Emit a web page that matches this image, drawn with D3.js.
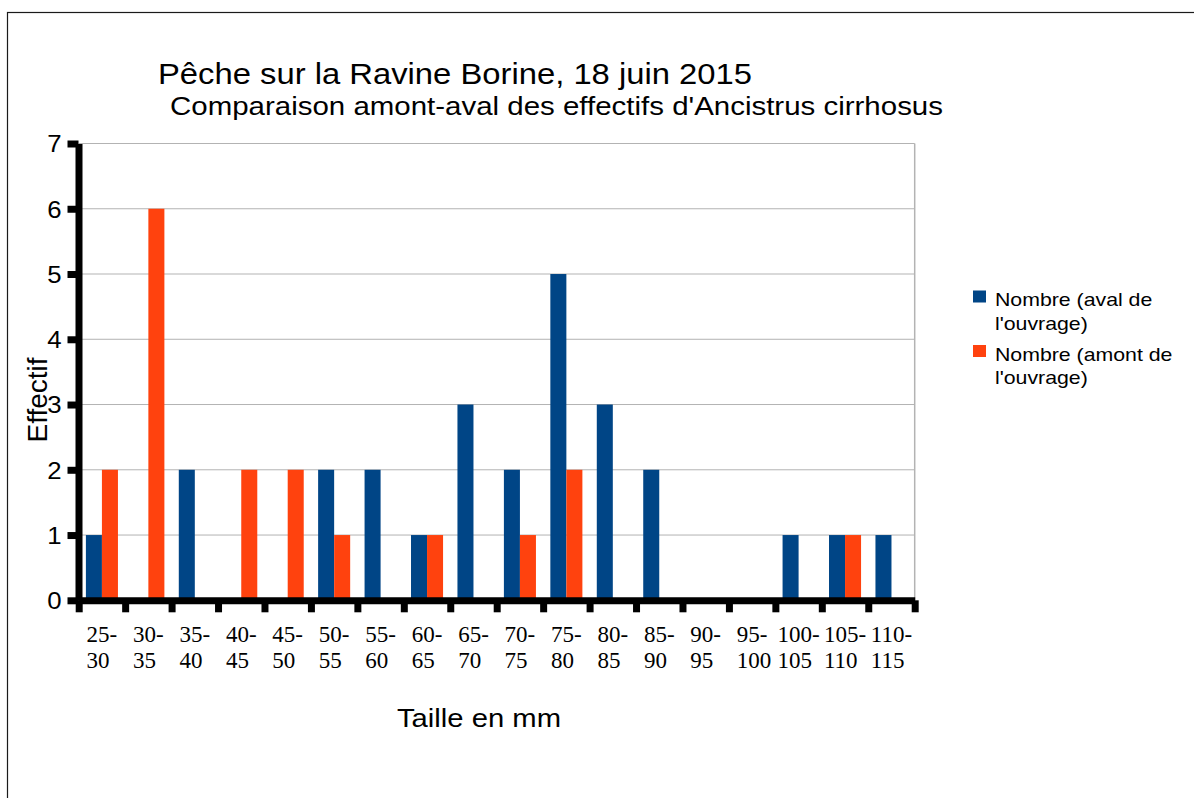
<!DOCTYPE html>
<html>
<head>
<meta charset="utf-8">
<script src="https://cdn.jsdelivr.net/npm/d3@7"></script>
<style>
  body { margin: 0; background: #fff; }
  svg { display: block; }
</style>
</head>
<body>
<div id="graph-holder"></div>
<script>
// size classes (mm)
var categories = ["25-30", "30-35", "35-40", "40-45", "45-50", "50-55", "55-60", "60-65", "65-70",
  "70-75", "75-80", "80-85", "85-90", "90-95", "95-100", "100-105", "105-110", "110-115"];

// counts downstream of the weir (blue)
var aval = [1, 0, 2, 0, 0, 2, 2, 1, 3, 2, 5, 3, 2, 0, 0, 1, 1, 1];

// counts upstream of the weir (orange)
var amont = [2, 6, 0, 2, 2, 1, 0, 1, 0, 1, 2, 0, 0, 0, 0, 0, 1, 0];

var seriesKeys = ["aval", "amont"];
var seriesLabels = [["Nombre (aval de", "l'ouvrage)"], ["Nombre (amont de", "l'ouvrage)"]];
var colors = ["#004586", "#ff420e"];
var yTicks = [0, 1, 2, 3, 4, 5, 6, 7];

var W = 1194, H = 798;
// plot area (note: "top" is reserved on window, so prefix these)
var plotLeft = 78.7, plotRight = 914.7, plotTop = 143.5, plotBottom = 600.3;

// sans text here renders a bit wider than Liberation Sans, stretch it
var stretch = 1.15;
function widen(sel, k) {
  sel.each(function () {
    var len = this.getComputedTextLength();
    d3.select(this).attr("textLength", len * k).attr("lengthAdjust", "spacingAndGlyphs");
  });
}

var svg = d3.select("#graph-holder")
  .append("svg")
  .attr("width", W)
  .attr("height", H)
  .style("font-family", "'Liberation Sans', Arial, sans-serif");

// outer frame
svg.append("rect")
  .attr("x", 7.5).attr("y", 12.5)
  .attr("width", W + 20).attr("height", H + 20)
  .attr("fill", "none")
  .attr("stroke", "#1a1a1a")
  .attr("stroke-width", 1.2);

// scales
var x = d3.scaleBand().domain(categories).range([plotLeft, plotRight]).padding(0);
var x1 = d3.scaleBand().domain(seriesKeys)
  .range([x.bandwidth() * 0.155, x.bandwidth() * 0.845]).padding(0);
var y = d3.scaleLinear().domain([0, 7]).range([plotBottom, plotTop]);
var xEdges = d3.scaleLinear().domain([0, categories.length]).range([plotLeft, plotRight]);

// grid lines
svg.append("g")
  .selectAll("line")
  .data(yTicks)
  .enter()
  .append("line")
  .attr("x1", plotLeft).attr("x2", plotRight)
  .attr("y1", function (d) { return y(d); })
  .attr("y2", function (d) { return y(d); })
  .attr("stroke", "#b3b3b3")
  .attr("stroke-width", 1);

// right edge of plot area
svg.append("line")
  .attr("x1", plotRight).attr("x2", plotRight)
  .attr("y1", y(7)).attr("y2", y(0))
  .attr("stroke", "#b3b3b3")
  .attr("stroke-width", 1.5);

// bars
var rows = categories.map(function (c, i) {
  return { cat: c, aval: aval[i], amont: amont[i] };
});

var groups = svg.append("g")
  .selectAll("g")
  .data(rows)
  .enter()
  .append("g")
  .attr("transform", function (d) { return "translate(" + x(d.cat) + ",0)"; });

groups.selectAll("rect")
  .data(function (d) {
    return seriesKeys
      .map(function (k, j) { return { key: k, value: d[k], color: colors[j] }; })
      .filter(function (e) { return e.value > 0; });
  })
  .enter()
  .append("rect")
  .attr("x", function (d) { return x1(d.key); })
  .attr("width", x1.bandwidth())
  .attr("y", function (d) { return y(d.value); })
  .attr("height", function (d) { return y(0) - y(d.value); })
  .attr("fill", function (d) { return d.color; });

// Y axis (thick black)
var yAxis = svg.append("g")
  .attr("transform", "translate(78.5,0)")
  .call(d3.axisLeft(y).tickValues(yTicks).tickFormat(d3.format("d"))
    .tickSizeInner(11).tickSizeOuter(0).tickPadding(6));
yAxis.select(".domain").attr("stroke", "#000").attr("stroke-width", 7);
yAxis.selectAll(".tick line").attr("stroke", "#000").attr("stroke-width", 7);
yAxis.selectAll(".tick text")
  .attr("fill", "#000")
  .style("font-family", "'Liberation Sans', Arial, sans-serif")
  .style("font-size", "23px")
  .attr("dy", "0.36em")
  .call(widen, 1.12);

// X axis: thick line with ticks on category edges
var xAxis = svg.append("g")
  .attr("transform", "translate(0," + plotBottom + ")")
  .call(d3.axisBottom(xEdges).tickValues(d3.range(categories.length + 1))
    .tickSizeInner(12).tickSizeOuter(0).tickFormat(""));
xAxis.select(".domain").attr("stroke", "#000").attr("stroke-width", 7);
xAxis.selectAll(".tick line").attr("stroke", "#000").attr("stroke-width", 7);

// category labels, wrapped after the hyphen
var catLabels = svg.append("g")
  .selectAll("text")
  .data(categories)
  .enter()
  .append("text")
  .style("font-family", "'Liberation Serif', 'Times New Roman', serif")
  .style("font-size", "23px")
  .attr("fill", "#000");

catLabels.each(function (c) {
  var parts = c.split("-");
  var t = d3.select(this);
  var first = t.append("tspan").text(parts[0] + "-").attr("y", 641.7);
  var w = first.node().getComputedTextLength();
  var x0 = x(c) + x.bandwidth() / 2 - w / 2;
  first.attr("x", x0);
  t.append("tspan").text(parts[1]).attr("x", x0).attr("y", 668.3);
});

// titles
svg.append("text")
  .attr("x", 158).attr("y", 83.5)
  .style("font-size", "29px")
  .attr("fill", "#000")
  .text("Pêche sur la Ravine Borine, 18 juin 2015")
  .attr("textLength", 594)
  .attr("lengthAdjust", "spacingAndGlyphs");

svg.append("text")
  .attr("x", 170).attr("y", 115)
  .style("font-size", "26px")
  .attr("fill", "#000")
  .text("Comparaison amont-aval des effectifs d'Ancistrus cirrhosus")
  .attr("textLength", 773)
  .attr("lengthAdjust", "spacingAndGlyphs");

// axis titles
svg.append("text")
  .attr("transform", "translate(47,400) rotate(-90)")
  .attr("text-anchor", "middle")
  .style("font-size", "28px")
  .attr("fill", "#000")
  .text("Effectif");

svg.append("text")
  .attr("x", 397).attr("y", 727)
  .style("font-size", "26.5px")
  .attr("fill", "#000")
  .text("Taille en mm")
  .attr("textLength", 164)
  .attr("lengthAdjust", "spacingAndGlyphs");

// legend
var legend = svg.append("g")
  .selectAll("g")
  .data(seriesLabels)
  .enter()
  .append("g")
  .attr("transform", function (d, i) { return "translate(973," + (290.5 + i * 54.5) + ")"; });

legend.append("rect")
  .attr("width", 13).attr("height", 12)
  .attr("fill", function (d, i) { return colors[i]; });

legend.each(function (lines) {
  var g = d3.select(this);
  lines.forEach(function (line, j) {
    g.append("text")
      .attr("x", 22).attr("y", 15.5 + j * 23.5)
      .style("font-size", "18.5px")
      .attr("fill", "#000")
      .text(line)
      .call(widen, stretch);
  });
});
</script>
</body>
</html>
